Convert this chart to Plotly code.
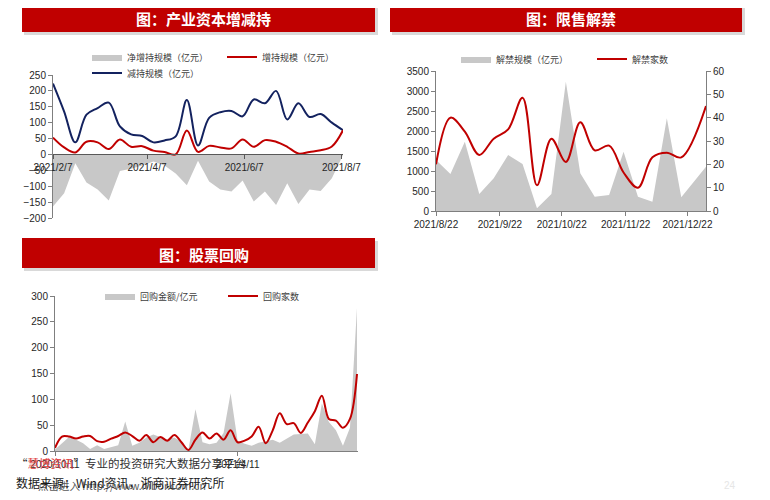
import plotly.graph_objects as go

# page body has an 8px margin; figure sized to fit the 770x500 window
OFF = 8
W, H = 770 - 2 * OFF, 500 - 2 * OFF
FONT = "Liberation Sans, Arial, Noto Sans CJK SC, sans-serif"
CJK = "Noto Sans CJK SC, Liberation Sans, sans-serif"
RED = "#c00000"
NAVY = "#13225f"
GRAY = "#c8c8c8"
AX = "#7f7f7f"
TXT = "#262626"

# ---------------- Panel 1: 产业资本增减持 ----------------
p1_dates = ["2021-02-07", "2021-02-14", "2021-02-21", "2021-02-28", "2021-03-07", "2021-03-14",
            "2021-03-21", "2021-03-28", "2021-04-04", "2021-04-11", "2021-04-18", "2021-04-25",
            "2021-05-02", "2021-05-09", "2021-05-16", "2021-05-23", "2021-05-30", "2021-06-06",
            "2021-06-13", "2021-06-20", "2021-06-27", "2021-07-04", "2021-07-11", "2021-07-18",
            "2021-07-25", "2021-08-01", "2021-08-08"]
p1_net = [-164, -122, -28, -88, -110, -145, -52, -45, -35, -22, -35, -60, -97, -20,
          -85, -110, -117, -82, -148, -117, -159, -91, -156, -110, -115, -75, -2]
p1_increase = [53, 22, 6, 40, 38, 17, 47, 24, 26, 12, 8, 0, 75, 8,
               27, 22, 19, 47, 24, 45, 40, 24, 3, 8, 13, 25, 76]
p1_decrease = [223, 135, 38, 125, 146, 163, 88, 63, 58, 38, 44, 57, 171, 28,
               115, 133, 137, 120, 173, 161, 200, 110, 161, 118, 127, 100, 76]
p1_tickvals = ["2021-02-07", "2021-04-07", "2021-06-07", "2021-08-07"]
p1_ticktext = ["2021/2/7", "2021/4/7", "2021/6/7", "2021/8/7"]

# ---------------- Panel 2: 限售解禁 ----------------
p2_dates = ["2021-08-22", "2021-08-29", "2021-09-05", "2021-09-12", "2021-09-19", "2021-09-26",
            "2021-10-03", "2021-10-10", "2021-10-17", "2021-10-24", "2021-10-31", "2021-11-07",
            "2021-11-14", "2021-11-21", "2021-11-28", "2021-12-05", "2021-12-12", "2021-12-19",
            "2021-12-31"]
p2_amount = [1275, 925, 1733, 425, 817, 1400, 1175, 67, 425, 3233, 942, 358,
             400, 1483, 358, 233, 2317, 342, 1108]
p2_count = [20, 40, 34, 24, 31, 35, 48.5, 11, 31, 21, 38, 26, 28, 16.5, 10, 23, 25, 23, 45]
p2_tickvals = ["2021-08-22", "2021-09-22", "2021-10-22", "2021-11-22", "2021-12-22"]
p2_ticktext = ["2021/8/22", "2021/9/22", "2021/10/22", "2021/11/22", "2021/12/22"]

# ---------------- Panel 3: 股票回购 ----------------
p3_dates = ["2020-10-11", "2020-10-18", "2020-10-25", "2020-11-01", "2020-11-08", "2020-11-15",
            "2020-11-22", "2020-11-29", "2020-12-06", "2020-12-13", "2020-12-20", "2020-12-27",
            "2021-01-03", "2021-01-10", "2021-01-17", "2021-01-24", "2021-01-31", "2021-02-07",
            "2021-02-14", "2021-02-21", "2021-02-28", "2021-03-07", "2021-03-14", "2021-03-21",
            "2021-03-28", "2021-04-04", "2021-04-11", "2021-04-18", "2021-04-25", "2021-05-02",
            "2021-05-09", "2021-05-16", "2021-05-23", "2021-05-30", "2021-06-06", "2021-06-13",
            "2021-06-20", "2021-06-27", "2021-07-04", "2021-07-11", "2021-07-18", "2021-07-25",
            "2021-08-01", "2021-08-08"]
p3_amount = [3, 15, 27, 22, 15, 4, 11, 4, 8, 11, 57, 10, 16, 26, 32, 27, 22, 26, 18, 3,
             81, 17, 13, 16, 35, 112, 20, 14, 10, 16, 19, 22, 16, 24, 32, 33, 34, 13,
             92, 56, 40, 10, 45, 277]
p3_count = [6, 28, 28, 24, 28, 29, 19, 18, 24, 29, 36, 29, 20, 31, 17, 27, 20, 31, 17, 2,
            22, 36, 24, 34, 22, 40, 17, 20, 28, 47, 15, 40, 73, 52, 54, 35, 55, 77,
            107, 62, 59, 45, 62, 149]
p3_tickvals = ["2020-10-11", "2021-04-11"]
p3_ticktext = ["2020/10/11", "2021/4/11"]


def px(x):
    return (x - OFF) / W


def py(y):
    return 1 - (y - OFF) / H


fig = go.Figure()

# Panel 1 traces
fig.add_trace(go.Scatter(x=p1_dates, y=p1_net, name="净增持规模（亿元）", mode="lines",
                         fill="tozeroy", fillcolor=GRAY, line=dict(width=0, color=GRAY),
                         xaxis="x", yaxis="y", legend="legend"))
fig.add_trace(go.Scatter(x=p1_dates, y=p1_decrease, name="减持规模（亿元）", mode="lines",
                         line=dict(color=NAVY, width=2, shape="spline"),
                         xaxis="x", yaxis="y", legend="legend3"))
fig.add_trace(go.Scatter(x=p1_dates, y=p1_increase, name="增持规模（亿元）", mode="lines",
                         line=dict(color=RED, width=2, shape="spline"),
                         xaxis="x", yaxis="y", legend="legend2"))

# Panel 2 traces
fig.add_trace(go.Scatter(x=p2_dates, y=p2_amount, name="解禁规模（亿元）", mode="lines",
                         fill="tozeroy", fillcolor=GRAY, line=dict(width=0, color=GRAY),
                         xaxis="x2", yaxis="y2", legend="legend4"))
fig.add_trace(go.Scatter(x=p2_dates, y=p2_count, name="解禁家数", mode="lines",
                         line=dict(color=RED, width=2, shape="spline"),
                         xaxis="x2", yaxis="y3", legend="legend5"))

# Panel 3 traces
fig.add_trace(go.Scatter(x=p3_dates, y=p3_amount, name="回购金额/亿元", mode="lines",
                         fill="tozeroy", fillcolor=GRAY, line=dict(width=0, color=GRAY),
                         xaxis="x3", yaxis="y4", legend="legend6"))
fig.add_trace(go.Scatter(x=p3_dates, y=p3_count, name="回购家数", mode="lines",
                         line=dict(color=RED, width=2, shape="spline"),
                         xaxis="x3", yaxis="y4", legend="legend7"))

tickfont = dict(family=FONT, size=10, color=TXT)
axcommon = dict(showgrid=False, zeroline=False, showline=True, linecolor=AX, linewidth=1,
                ticks="outside", ticklen=4, tickcolor=AX, tickfont=tickfont, automargin=False)

# Panel 1 axes
y1_dom = [py(218), py(75)]
y1_rng = [-200, 250]
zero_pos = y1_dom[0] + (0 - y1_rng[0]) / (y1_rng[1] - y1_rng[0]) * (y1_dom[1] - y1_dom[0])
fig.update_layout(
    xaxis=dict(domain=[px(53), px(343)], range=["2021-02-07", "2021-08-08"], anchor="free",
               position=zero_pos, tickvals=p1_tickvals, ticktext=p1_ticktext,
               **{**axcommon, "linecolor": "#595959", "tickcolor": "#595959"}),
    yaxis=dict(domain=y1_dom, range=y1_rng, dtick=50, anchor="x", **axcommon),
    xaxis2=dict(domain=[px(436), px(706)], range=["2021-08-22", "2021-12-31"], anchor="y2",
                tickvals=p2_tickvals, ticktext=p2_ticktext, **axcommon),
    yaxis2=dict(domain=[py(211), py(71)], range=[0, 3500], dtick=500, anchor="x2", **axcommon),
    yaxis3=dict(overlaying="y2", side="right", anchor="x2", range=[0, 60], dtick=10, **axcommon),
    xaxis3=dict(domain=[px(55), px(358)], range=["2020-10-11", "2021-08-09"], anchor="y4",
                tickvals=p3_tickvals, ticktext=p3_ticktext, **axcommon),
    yaxis4=dict(domain=[py(451), py(296)], range=[0, 300], dtick=50, anchor="x3", **axcommon),
)


def leg(text_x, y):
    return dict(x=px(text_x - 40), y=py(y), xanchor="left", yanchor="middle",
                orientation="h", bgcolor="rgba(0,0,0,0)", borderwidth=0,
                font=dict(family=CJK, size=9, color="#404040"), itemwidth=30)


fig.update_layout(
    legend=leg(127, 57),
    legend2=leg(262, 57),
    legend3=leg(127, 73),
    legend4=leg(496, 59),
    legend5=leg(632, 59),
    legend6=leg(140, 296),
    legend7=leg(263, 296),
)

# Banners
shapes = []
annotations = []
banners = [
    (22, 375, 2, 32, "图：产业资本增减持", 203, 18),
    (390, 742, 2, 32, "图：限售解禁", 571, 18),
    (22, 375, 238, 268, "图：股票回购", 204, 254),
]
for x0, x1, y0, y1, title, tx, ty in banners:
    shapes.append(dict(type="rect", xref="paper", yref="paper", x0=px(x0 + 2), x1=px(x1 + 3),
                       y0=py(y1 + 3), y1=py(y0 + 3), fillcolor="rgba(0,0,0,0.15)",
                       line=dict(width=0), layer="below"))
    shapes.append(dict(type="rect", xref="paper", yref="paper", x0=px(x0), x1=px(x1),
                       y0=py(y1), y1=py(y0), fillcolor=RED, line=dict(width=0), layer="below"))
    annotations.append(dict(text="<b>" + title + "</b>", x=px(tx), y=py(ty), xref="paper",
                            yref="paper", showarrow=False, xanchor="center", yanchor="middle",
                            font=dict(family=CJK, size=15, color="white")))

# Footer texts (watermark overlaps the axis labels, as in the source page)
annotations.append(dict(text="“<span style='color:#e03c3c'>慧博资讯</span>”专业的投资研究大数据分享平台",
                        x=px(14), y=py(463), xref="paper", yref="paper", showarrow=False,
                        xanchor="left", yanchor="middle",
                        font=dict(family=CJK, size=11.5, color="#303030")))
annotations.append(dict(text="点击进入 http://www.hibor.com.cn",
                        x=px(36), y=py(485), xref="paper", yref="paper", showarrow=False,
                        xanchor="left", yanchor="middle",
                        font=dict(family=CJK, size=10.5, color="#5a5a5a")))
annotations.append(dict(text="数据来源：Wind资讯，浙商证券研究所",
                        x=px(14), y=py(482), xref="paper", yref="paper", showarrow=False,
                        xanchor="left", yanchor="middle",
                        font=dict(family=CJK, size=12, color="#1a1a1a")))
annotations.append(dict(text="24", x=px(730), y=py(485), xref="paper", yref="paper",
                        showarrow=False, xanchor="center", yanchor="middle",
                        font=dict(family=FONT, size=10, color="#e6e6e6")))

fig.update_layout(
    template="none",
    width=W, height=H, margin=dict(l=0, r=0, t=0, b=0, pad=0, autoexpand=False),
    paper_bgcolor="white", plot_bgcolor="rgba(0,0,0,0)",
    shapes=shapes, annotations=annotations,
    font=dict(family=FONT, size=10, color=TXT),
    showlegend=True,
)

fig.write_html("out.html")
